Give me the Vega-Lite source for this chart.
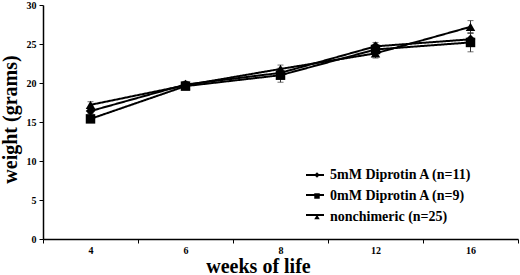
{
  "$schema": "https://vega.github.io/schema/vega-lite/v6.json",
  "autosize": "none",
  "width": 475,
  "height": 234,
  "padding": {"left": 43, "top": 5, "right": 2, "bottom": 36},
  "config": {
    "view": {"stroke": null},
    "font": "Liberation Serif",
    "legend": {"labelFont": "Liberation Serif", "labelFontSize": 14, "labelFontWeight": "bold", "labelColor": "#000", "labelLimit": 300, "title": null, "orient": "none"},
    "axis": {"grid": false, "domainColor": "#000", "tickColor": "#000", "labelColor": "#000", "titleColor": "#000", "labelFont": "Liberation Serif", "titleFont": "Liberation Serif", "labelFontWeight": "bold", "titleFontWeight": "bold", "labelFontSize": 10, "domainWidth": 1.5}
  },
  "data": {
    "values": [
      {"week": "4", "group": "5mM Diprotin A (n=11)", "mean": 16.4, "err": 0.3},
      {"week": "6", "group": "5mM Diprotin A (n=11)", "mean": 19.8, "err": 0.4},
      {"week": "8", "group": "5mM Diprotin A (n=11)", "mean": 21.3, "err": 0.5},
      {"week": "12", "group": "5mM Diprotin A (n=11)", "mean": 24.7, "err": 0.5},
      {"week": "16", "group": "5mM Diprotin A (n=11)", "mean": 25.6, "err": 0.8},
      {"week": "4", "group": "0mM Diprotin A (n=9)", "mean": 15.4, "err": 0.3},
      {"week": "6", "group": "0mM Diprotin A (n=9)", "mean": 19.6, "err": 0.3},
      {"week": "8", "group": "0mM Diprotin A (n=9)", "mean": 21.0, "err": 0.9},
      {"week": "12", "group": "0mM Diprotin A (n=9)", "mean": 24.3, "err": 0.6},
      {"week": "16", "group": "0mM Diprotin A (n=9)", "mean": 25.2, "err": 1.2},
      {"week": "4", "group": " nonchimeric (n=25)", "mean": 17.2, "err": 0.4},
      {"week": "6", "group": " nonchimeric (n=25)", "mean": 19.7, "err": 0.5},
      {"week": "8", "group": " nonchimeric (n=25)", "mean": 21.8, "err": 0.5},
      {"week": "12", "group": " nonchimeric (n=25)", "mean": 23.8, "err": 0.6},
      {"week": "16", "group": " nonchimeric (n=25)", "mean": 27.2, "err": 0.8}
    ]
  },
  "encoding": {
    "x": {"field": "week", "type": "ordinal", "sort": ["4", "6", "8", "12", "16"],
      "scale": {"paddingInner": 0, "paddingOuter": 0},
      "axis": {"title": "weeks of life", "titleFontSize": 20, "labelAngle": 0, "labelPadding": 2, "titleX": 215, "titleY": 33, "titleBaseline": "alphabetic", "tickBand": "extent", "tickSize": 4}},
    "y": {"field": "mean", "type": "quantitative", "scale": {"domain": [0, 30]},
      "axis": {"title": "weight (grams)", "titleFontSize": 20, "values": [0, 5, 10, 15, 20, 25, 30], "tickSize": 4, "labelPadding": 3, "titleX": -33, "titleY": 114, "titleBaseline": "middle", "titleAlign": "center", "titleAngle": -90}}
  },
  "layer": [
    {
      "transform": [
        {"calculate": "datum.mean - datum.err", "as": "lo"},
        {"calculate": "datum.mean + datum.err", "as": "hi"}
      ],
      "mark": {"type": "rule", "color": "#333", "strokeWidth": 1},
      "encoding": {"y": {"field": "lo", "type": "quantitative"}, "y2": {"field": "hi"}, "detail": {"field": "group"}}
    },
    {
      "transform": [{"calculate": "datum.mean - datum.err", "as": "lo"}],
      "mark": {"type": "tick", "color": "#333", "size": 6, "thickness": 1, "orient": "horizontal"},
      "encoding": {"y": {"field": "lo", "type": "quantitative"}}
    },
    {
      "transform": [{"calculate": "datum.mean + datum.err", "as": "hi"}],
      "mark": {"type": "tick", "color": "#333", "size": 6, "thickness": 1, "orient": "horizontal"},
      "encoding": {"y": {"field": "hi", "type": "quantitative"}}
    },
    {
      "transform": [{"calculate": "datum.group", "as": "series"}],
      "mark": {"type": "line", "color": "#000", "strokeWidth": 2},
      "encoding": {
        "strokeDash": {"field": "series", "type": "nominal",
          "sort": ["5mM Diprotin A (n=11)", "0mM Diprotin A (n=9)", " nonchimeric (n=25)"],
          "scale": {"range": [[1, 0], [1, 0], [1, 0]]},
          "legend": {"legendX": 262, "legendY": 160, "symbolType": "stroke", "symbolSize": 324, "symbolStrokeWidth": 2, "symbolStrokeColor": "#000", "labelExpr": "''", "labelOffset": 0, "rowPadding": 3}}
      }
    },
    {
      "mark": {"type": "point", "filled": true, "color": "#000", "opacity": 1, "size": 90},
      "encoding": {
        "shape": {"field": "group", "type": "nominal",
          "sort": ["5mM Diprotin A (n=11)", "0mM Diprotin A (n=9)", " nonchimeric (n=25)"],
          "scale": {"range": ["diamond", "square", "triangle-up"]},
          "legend": {"legendX": 267, "legendY": 163, "symbolFillColor": "#000", "symbolStrokeColor": "#000", "symbolStrokeWidth": 0, "symbolSize": 30, "rowPadding": 7, "labelOffset": 6}}
      }
    }
  ]
}
